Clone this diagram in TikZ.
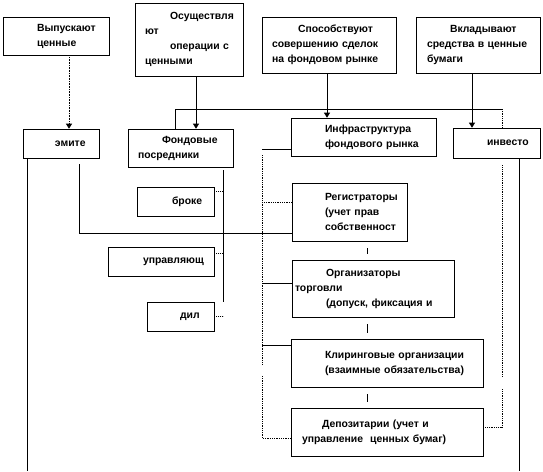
\documentclass[tikz,border=0pt]{standalone}
\usepackage{fontspec}
\setmainfont{Liberation Sans}
\usepackage{tikz}
\usetikzlibrary{positioning,arrows.meta,calc}
\newcommand{\pad}[1]{\hspace*{#1pt}}

\begin{document}
\begin{tikzpicture}[x=1pt, y=-1pt,
      box/.style={draw, line width=0.6pt, inner xsep=0pt, inner ysep=0pt, align=left,
                  font=\fontsize{10.4}{15}\selectfont\bfseries},
      arr/.style={-{Triangle[length=5pt, width=6pt]}, line width=0.6pt},
      link/.style={line width=0.6pt},
      dots/.style={densely dotted, line width=0.8pt}]
    \useasboundingbox (0,0) rectangle (543,471);
    % top row
    \node[box, text width=106pt, minimum height=38pt] (issue) at (56,36) {\pad{34}Выпускают\\\pad{34}ценные};
    \node[box, text width=108pt, minimum height=73pt] (oper) at (189,39.5) {\pad{35}Осуществля\\\pad{10}ют\\\pad{35}операции с\\\pad{10}ценными};
    \node[box, text width=134pt, minimum height=56pt] (promote) at (329,45) {\pad{36}Способствуют\\\pad{10}совершению сделок\\\pad{10}на фондовом рынке};
    \node[box, text width=124pt, minimum height=56pt] (invest) at (478,45) {\pad{34}Вкладывают\\\pad{11}средства в ценные\\\pad{11}бумаги};
    % participants
    \node[box, text width=76pt, minimum height=29pt] (emit) at (61,143.5) {\pad{32}эмите};
    \node[box, text width=105pt, minimum height=38pt] (interm) at (180.5,148) {\pad{34}Фондовые\\\pad{10}посредники};
    \node[box, text width=145pt, minimum height=38pt] (infra) at (363.5,137) {\pad{34}Инфраструктура\\\pad{34}фондового рынка};
    \node[box, text width=87pt, minimum height=30pt] (investor) at (496.5,143) {\pad{34}инвесто};
    % intermediaries
    \node[box, text width=77pt, minimum height=29pt] (broker) at (175.5,201.5) {\pad{35}броке};
    \node[box, text width=106pt, minimum height=29pt] (manager) at (161,261.5) {\pad{35}управляющ};
    \node[box, text width=67pt, minimum height=29pt] (dealer) at (180.5,316.5) {\pad{33}дил};
    % infrastructure
    \node[box, text width=115pt, minimum height=58pt] (registrar) at (349.5,212) {\pad{33}Регистраторы\\\pad{33}(учет прав\\\pad{33}собственност};
    \node[box, text width=162pt, minimum height=57pt] (organizer) at (373,288.5) {\pad{34}Организаторы\\\pad{3}торговли\\\pad{34}(допуск, фиксация и};
    \node[box, text width=192pt, minimum height=48pt] (clearing) at (387,363) {\pad{34}Клиринговые организации\\\pad{34}(взаимные обязательства)};
    \node[box, text width=192pt, minimum height=48pt] (depository) at (387,432) {\pad{31}Депозитарии (учет и\\\pad{11}управление\ \ ценных бумаг)};

    \coordinate (busR) at (502,109);
    \coordinate (emitEnd) at (27,471);
    \coordinate (regCorner) at (79,233);
    \coordinate (midTop) at (223,170);
    \coordinate (midEnd) at (223,302);
    \coordinate (infTop) at (262,149);
    \coordinate (infLow) at (262,375);
    \coordinate (rightLow) at (502,389);
    \coordinate (invEnd) at (519,471);
    \coordinate (tickX) at (367,0);

    % arrows from the top row
    \draw[arr, dots] ($(issue.south)+(13,0)$) -- ($(emit.north)+(8,0)$);
    \draw[arr] ($(oper.south)+(7,0)$) -- ($(interm.north)+(15.5,0)$);
    \draw[arr] ($(promote.south)+(-2,0)$) -- ($(infra.north)+(-36.5,0)$);
    \draw[arr] ($(invest.south)+(-6,0)$) -- ($(investor.north)+(-24.5,0)$);

    % line over the participants
    \draw[link] ($(interm.north)+(-5.5,0)$) |- (busR);
    \draw[dots] (busR) -- ($(investor.north)+(5.5,0)$);

    % issuer
    \draw[link] (emit.south -| emitEnd) -- (emitEnd);
    \draw[link] ($(emit.south)+(18,6)$) -- (regCorner) -- (regCorner -| registrar.west);

    % intermediaries
    \draw[link] (midTop) -- (midEnd);
    \draw[dots] ($(broker.east)+(0,-10)$) -- ++(9,0);
    \draw[dots] ($(manager.east)+(0,-8.5)$) -- ++(9,0);
    \draw[dots] (dealer.east) -- ++(9,0);

    % infrastructure
    \draw[link] ($(infra.west)+(0,12)$) -- (infTop);
    \draw[dots] ($(infTop)+(0,6)$) -- (262,365);
    \draw[dots] ($(registrar.west)+(0,-10)$) -- ++(-30,0);
    \draw[link] ($(organizer.west)+(0,-5.5)$) -- ++(-30,0);
    \draw[link] ($(clearing.west)+(0,-18)$) -- ++(-29,0);
    \draw[dots] ($(depository.west)+(0,6)$) -| (infLow);
    \foreach \a/\b in {registrar/organizer, organizer/clearing, clearing/depository}
      \draw[link, shorten <=7pt, shorten >=5.5pt] (\a.south -| tickX) -- (\b.north -| tickX);

    % investor
    \draw[dots] ($(investor.south)+(5.5,7)$) -- (502,376);
    \draw[dots] ($(depository.east)+(0,-5)$) -| (rightLow);
    \draw[link] (investor.south -| invEnd) -- (invEnd);
  \end{tikzpicture}
\end{document}
